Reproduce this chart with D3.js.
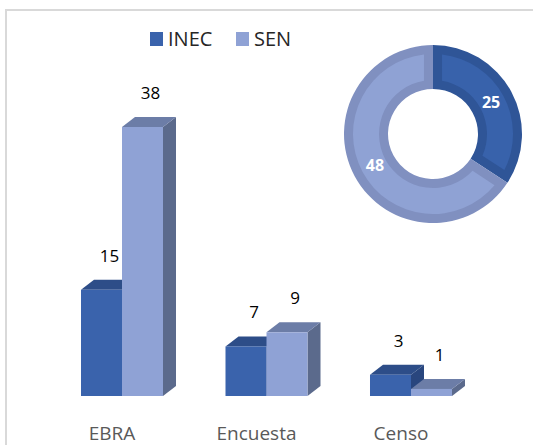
<!DOCTYPE html>
<html lang="es">
<head>
    <meta charset="UTF-8">
    <title>INEC vs SEN</title>
    <script src="https://d3js.org/d3.v7.min.js"></script>
    <style>
        body { margin: 0; padding: 0; background: #fff; overflow: hidden; }
        svg { display: block; font-family: "Open Sans", sans-serif; }
        .value { font-size: 17px; fill: #000; text-anchor: middle; }
        .cat { font-size: 19px; fill: #595959; text-anchor: middle; }
        .legend { font-size: 20px; fill: #262626; }
        .donut-label { font-size: 16px; font-weight: bold; fill: #fff; text-anchor: middle; }
    </style>
</head>
<body>
<svg width="533" height="445"></svg>
<script>
    // Datos
    const categories = ["EBRA", "Encuesta", "Censo"];
    const seriesNames = ["INEC", "SEN"];
    const inecValues = [15, 7, 3];
    const senValues = [38, 9, 1];

    // colores: frontal, superior, lateral
    const colors = {
        INEC: { front: "#3a63ac", top: "#2d4d88", side: "#29467e", ring: "#2f5597", ringIn: "#3862ab" },
        SEN:  { front: "#8fa2d5", top: "#6c7da7", side: "#5b6a8c", ring: "#8090c0", ringIn: "#8fa2d4" }
    };

    const svg = d3.select("svg");

    // Borde del gráfico
    svg.append("rect")
       .attr("x", 6).attr("y", 10)
       .attr("width", 540).attr("height", 450)
       .attr("fill", "none")
       .attr("stroke", "#d9d9d9")
       .attr("stroke-width", 2);

    // Escalas
    const x = d3.scaleBand()
                .domain(categories)
                .range([81, 452])
                .paddingInner(0.4325)
                .paddingOuter(0);
    const xs = d3.scaleBand()
                 .domain(seriesNames)
                 .range([0, x.bandwidth()]);
    const y = d3.scaleLinear()
                .domain([0, 38])
                .range([396, 127]);

    const depthX = 13, depthY = 10;

    const rows = [];
    categories.forEach((c, i) => {
        rows.push({ cat: c, series: "INEC", value: inecValues[i] });
        rows.push({ cat: c, series: "SEN", value: senValues[i] });
    });

    // Barras 3D (INEC primero, SEN lo tapa)
    const bars = svg.selectAll(".bar")
       .data(rows)
       .enter()
       .append("g")
       .attr("class", "bar");

    bars.each(function(d) {
        const g = d3.select(this);
        const x0 = x(d.cat) + xs(d.series);
        const x1 = x0 + xs.bandwidth();
        const yt = y(d.value);
        const yb = y(0);
        const c = colors[d.series];
        // lateral
        g.append("path")
         .attr("d", `M${x1},${yt} L${x1 + depthX},${yt - depthY} L${x1 + depthX},${yb - depthY} L${x1},${yb} Z`)
         .attr("fill", c.side);
        // superior
        g.append("path")
         .attr("d", `M${x0},${yt} L${x0 + depthX},${yt - depthY} L${x1 + depthX},${yt - depthY} L${x1},${yt} Z`)
         .attr("fill", c.top);
        // frontal
        g.append("rect")
         .attr("x", x0).attr("y", yt)
         .attr("width", xs.bandwidth()).attr("height", yb - yt)
         .attr("fill", c.front);
    });

    // Etiquetas de valores
    svg.selectAll(".value")
       .data(rows)
       .enter()
       .append("text")
       .attr("class", "value")
       .attr("x", d => x(d.cat) + xs(d.series) + xs.bandwidth() / 2 + 8)
       .attr("y", d => y(d.value) - 28)
       .text(d => d.value);

    // Etiquetas de categoría
    svg.selectAll(".cat")
       .data(categories)
       .enter()
       .append("text")
       .attr("class", "cat")
       .attr("x", d => x(d) + x.bandwidth() / 2 - 10)
       .attr("y", 440)
       .text(d => d);

    // Leyenda
    const legendX = [150, 236];
    seriesNames.forEach((s, i) => {
        svg.append("rect")
           .attr("x", legendX[i]).attr("y", 32)
           .attr("width", 13).attr("height", 14)
           .attr("fill", colors[s].front);
        svg.append("text")
           .attr("class", "legend")
           .attr("x", legendX[i] + 18)
           .attr("y", 46)
           .text(s);
    });

    // Donut con los totales
    const totals = seriesNames.map(s => ({
        series: s,
        value: d3.sum(s === "INEC" ? inecValues : senValues)
    }));
    const pie = d3.pie().sort(null).value(d => d.value);
    const arcs = pie(totals);

    const donut = svg.append("g").attr("transform", "translate(433,134)");
    const outerArc = d3.arc().innerRadius(45).outerRadius(89);
    const innerArc = d3.arc().innerRadius(54).outerRadius(80).padAngle(0.27).padRadius(67);
    const labelArc = d3.arc().innerRadius(66).outerRadius(66);

    donut.selectAll(".ring")
         .data(arcs)
         .enter()
         .append("path")
         .attr("d", outerArc)
         .attr("fill", d => colors[d.data.series].ring);

    donut.selectAll(".ring-in")
         .data(arcs)
         .enter()
         .append("path")
         .attr("d", innerArc)
         .attr("fill", d => colors[d.data.series].ringIn);

    donut.selectAll(".donut-label")
         .data(arcs)
         .enter()
         .append("text")
         .attr("class", "donut-label")
         .attr("transform", d => `translate(${labelArc.centroid(d)})`)
         .attr("dy", "0.35em")
         .text(d => d.data.value);
</script>
</body>
</html>
